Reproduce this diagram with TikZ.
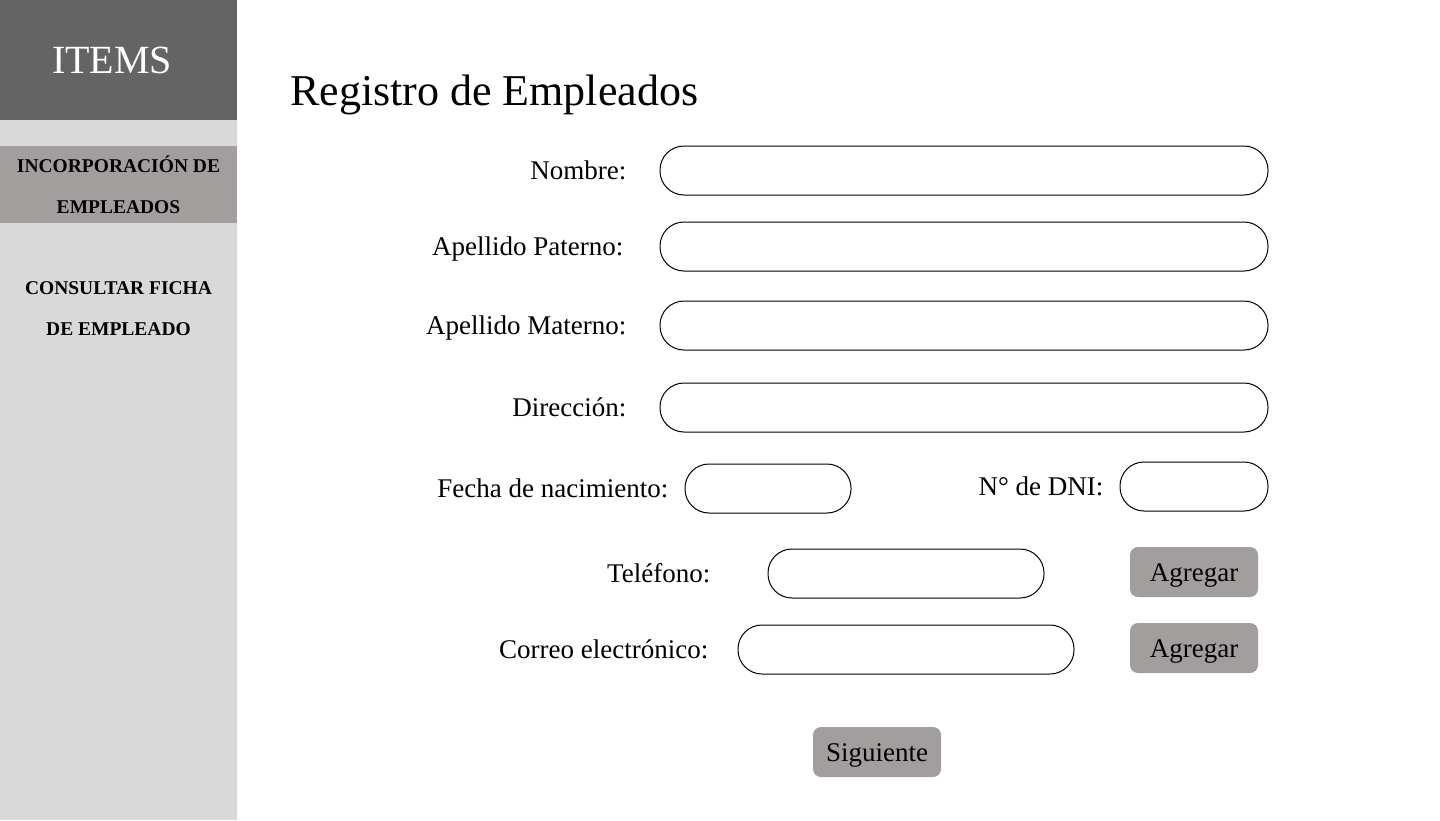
\documentclass[tikz,border=0pt]{standalone}
\usepackage{fontspec}
\setmainfont{Liberation Serif}
\usepackage{tikz}
\usetikzlibrary{positioning}
\usepackage{xcolor}
\definecolor{barragris}{HTML}{D9D9D9}
\definecolor{cabecera}{HTML}{646464}
\definecolor{botongris}{HTML}{A39E9E}

\begin{document}
\begin{tikzpicture}[x=1pt,y=-1pt,node distance=33pt]
  \tikzstyle{campo}=[draw,line width=1pt,rounded corners=24pt,minimum height=49pt,inner sep=0pt]
  \tikzstyle{etiqueta}=[inner sep=0pt,text height=18pt,text depth=0pt,font=\fontsize{27}{31}\selectfont]
  \tikzstyle{boton}=[fill=botongris,rounded corners=8pt,minimum width=128pt,minimum height=50pt,inner sep=0pt,text height=18pt,text depth=0pt,font=\fontsize{27}{31}\selectfont]
  \tikzstyle{menu}=[minimum width=237pt,inner sep=0pt,align=center,font=\bfseries\fontsize{19.5}{41}\selectfont]

  \useasboundingbox (0,0) rectangle (1440,820);
  \fill[white] (0,0) rectangle (1440,820);
  \fill[barragris] (0,0) rectangle (237,820);
  \fill[cabecera] (0,0) rectangle (237,120);

  % barra lateral
  \node[inner sep=0pt,text=white,font=\fontsize{40}{44}\selectfont] (items) at (112,60) {ITEMS};
  \node[menu,fill=botongris,minimum height=77pt] (m_incorporacion) at (118.5,184.5) {INCORPORACIÓN DE\\EMPLEADOS};
  \node[menu] (m_consultar) at (118.5,308.5) {CONSULTAR FICHA\\DE EMPLEADO};

  \node[anchor=base west,inner sep=0pt,font=\fontsize{44}{48}\selectfont] (titulo) at (290,105) {Registro de Empleados};

  % campos
  \node[campo,minimum width=608pt] (f_nombre)  at (964,170.5) {};
  \node[campo,minimum width=608pt] (f_paterno) at (964,246.5) {};
  \node[campo,minimum width=608pt] (f_materno) at (964,325.5) {};
  \node[campo,minimum width=608pt] (f_direccion) at (964,407.5) {};
  \node[campo,minimum width=166pt] (f_fecha)   at (768,488.5) {};
  \node[campo,minimum width=148pt] (f_dni)     at (1194,486.5) {};
  \node[campo,minimum width=276pt] (f_telefono) at (906,573.5) {};
  \node[campo,minimum width=336pt] (f_correo)  at (906,649.5) {};

  % etiquetas
  \node[etiqueta,left=of f_nombre]         (l_nombre)    {Nombre:};
  \node[etiqueta,left=36pt of f_paterno]   (l_paterno)   {Apellido Paterno:};
  \node[etiqueta,left=of f_materno]        (l_materno)   {Apellido Materno:};
  \node[etiqueta,left=of f_direccion]      (l_direccion) {Dirección:};
  \node[etiqueta,left=16pt of f_fecha]     (l_fecha)     {Fecha de nacimiento:};
  \node[etiqueta,left=16pt of f_dni]       (l_dni)       {N° de DNI:};
  \node[etiqueta,left=57pt of f_telefono]  (l_telefono)  {Teléfono:};
  \node[etiqueta,left=29pt of f_correo]    (l_correo)    {Correo electrónico:};

  % botones
  \node[boton] (b_telefono)  at (1194,572) {Agregar};
  \node[boton] (b_correo)    at (1194,648) {Agregar};
  \node[boton] (b_siguiente) at (877,752)  {Siguiente};
\end{tikzpicture}
\end{document}
